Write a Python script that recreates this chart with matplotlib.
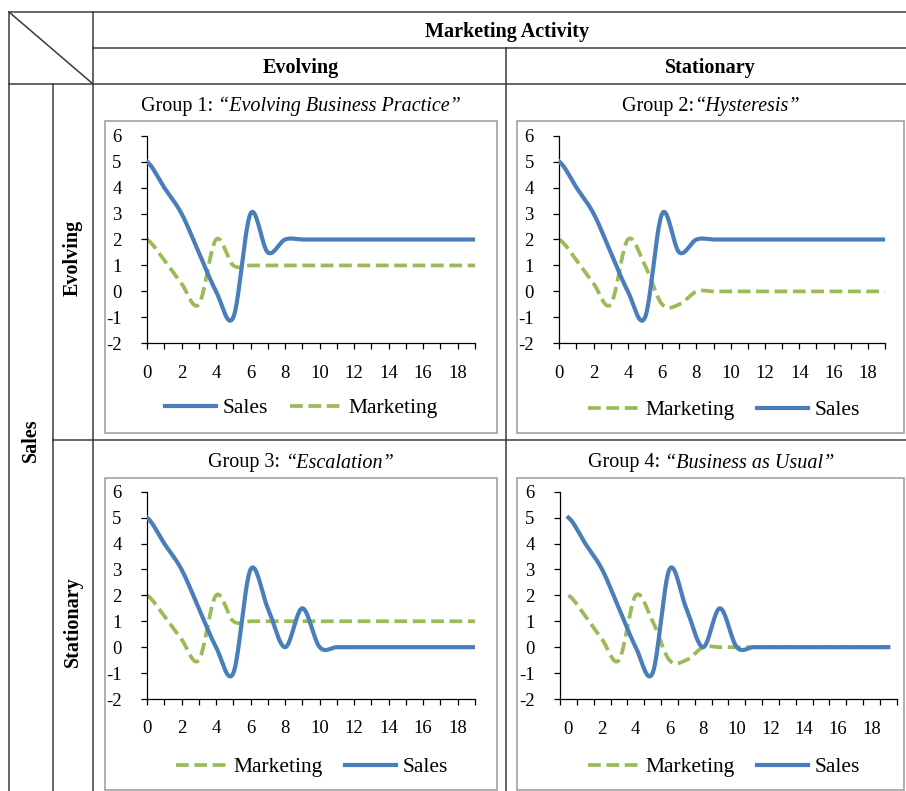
import numpy as np
import matplotlib
matplotlib.use('Agg')
import matplotlib.pyplot as plt
from matplotlib.lines import Line2D
from matplotlib.patches import Rectangle

plt.rcParams['font.family'] = 'Liberation Serif'
plt.rcParams['axes.unicode_minus'] = False

# values at each period 0..19
periodos = np.arange(20)
ventas_evol = [5, 4, 3, 1.5, 0, -1, 3, 1.5, 2, 2, 2, 2, 2, 2, 2, 2, 2, 2, 2, 2]
ventas_estac = [5, 4, 3, 1.5, 0, -1, 3, 1.5, 0, 1.5, 0, 0, 0, 0, 0, 0, 0, 0, 0, 0]
mkt_evol = [2, 1.2, 0.3, -0.5, 2, 1, 1, 1, 1, 1, 1, 1, 1, 1, 1, 1, 1, 1, 1, 1]
mkt_estac = [2, 1.2, 0.3, -0.5, 2, 1, -0.5, -0.5, 0, 0, 0, 0, 0, 0, 0, 0, 0, 0, 0, 0]

titulos = [('Group 1: ', '\u201cEvolving Business Practice\u201d'),
           ('Group 2:', '\u201cHysteresis\u201d'),
           ('Group 3: ', '\u201cEscalation\u201d'),
           ('Group 4: ', '\u201cBusiness as Usual\u201d')]

AZUL = '#4a7ebb'
VERDE = '#9bbb59'
W, H = 906, 791


def fx(x):
    return x / W


def fy(y):
    return 1 - y / H


def suavizar(y, n=40):
    # curva tipo Catmull-Rom (linea suavizada de Excel)
    y = np.asarray(y, float)
    p = np.r_[y[0], y, y[-1]]
    xs, ys = [], []
    t = np.linspace(0, 1, n, endpoint=False)
    for i in range(len(y) - 1):
        p0, p1, p2, p3 = p[i], p[i + 1], p[i + 2], p[i + 3]
        v = 0.5 * (2 * p1 + (-p0 + p2) * t + (2 * p0 - 5 * p1 + 4 * p2 - p3) * t ** 2
                   + (-p0 + 3 * p1 - 3 * p2 + p3) * t ** 3)
        xs.append(i + t)
        ys.append(v)
    xs.append([len(y) - 1])
    ys.append([y[-1]])
    return np.concatenate(xs), np.concatenate(ys)


fig = plt.figure(figsize=(W / 100, H / 100), dpi=100)

# tabla
lc = '#3a3a3a'
lineas = [((9, 906), (12, 12)), ((9, 9), (12, 791)), ((93, 93), (12, 791)),
          ((53, 53), (84, 791)), ((93, 906), (48, 48)), ((9, 906), (84, 84)),
          ((506, 506), (48, 791)), ((53, 906), (440, 440)), ((9, 93), (12, 84))]
for xx, yy in lineas:
    fig.add_artist(Line2D([fx(v) for v in xx], [fy(v) for v in yy],
                          color=lc, lw=1.1, transform=fig.transFigure))

fig.text(fx(507), fy(37.5), 'Marketing Activity', ha='center', va='baseline',
         fontsize=14.5, fontweight='bold')
fig.text(fx(301), fy(72.5), 'Evolving', ha='center', va='baseline', fontsize=14.5, fontweight='bold')
fig.text(fx(710), fy(72.5), 'Stationary', ha='center', va='baseline', fontsize=14.5, fontweight='bold')
fig.text(fx(31), fy(440), 'Sales', ha='center', va='center', rotation=90, fontsize=14.5, fontweight='bold')
fig.text(fx(73), fy(258), 'Evolving', ha='center', va='center', rotation=90, fontsize=14.5, fontweight='bold')
fig.text(fx(73), fy(622), 'Stationary', ha='center', va='center', rotation=90, fontsize=14.5, fontweight='bold')

# marcos de cada grafico
marcos = [(105, 121, 497, 433), (517, 121, 904, 433), (105, 478, 497, 790), (517, 478, 904, 790)]
for x0, y0, x1, y1 in marcos:
    fig.add_artist(Rectangle((fx(x0), fy(y1)), fx(x1) - fx(x0), (y1 - y0) / H, fill=False,
                             edgecolor='#9a9a9a', lw=1.1, transform=fig.transFigure))

# area de datos: izquierda, derecha, arriba, abajo (px)
areas = [(147, 475, 135.7, 343.3), (559.3, 885, 135.7, 343.3),
         (147, 475, 491.7, 699), (560, 896.7, 491.7, 699)]
series = [(ventas_evol, mkt_evol, 'sm'), (ventas_evol, mkt_estac, 'ms'),
          (ventas_estac, mkt_evol, 'ms'), (ventas_estac, mkt_estac, 'ms')]
leyendas = [(301, 408), (724, 410), (312, 767), (724, 767)]
centros_tit = [(301, 111.5), (711, 111.5), (301, 467.5), (711, 467.5)]

renderer = fig.canvas.get_renderer()

for k in range(4):
    l, r, t, b = areas[k]
    ax = fig.add_axes([fx(l), fy(b), (r - l) / W, (b - t) / H])
    ventas, mkt, orden = series[k]
    xv, yv = suavizar(ventas)
    xm, ym = suavizar(mkt)
    h_s, = ax.plot(xv, yv, color=AZUL, lw=3.0, label='Sales', zorder=3)
    h_m, = ax.plot(xm, ym, color=VERDE, lw=2.7, ls=(0, (3.4, 1.5)), dash_capstyle='butt',
                   label='Marketing', zorder=2)
    ax.set_ylim(-2, 6)
    ax.set_yticks(range(-2, 7))
    if k == 3:
        ax.set_xlim(-0.5, 19.5)
        ax.set_xticks(np.arange(-0.5, 20, 1))
        ax.set_xticklabels([])
        ax.set_xticks(range(0, 20, 2), minor=True)
        ax.set_xticklabels([str(i) for i in range(0, 20, 2)], minor=True)
        ax.tick_params(axis='x', which='minor', length=0, labelsize=13.5, pad=15.5)
    else:
        ax.set_xlim(0, 19)
        ax.set_xticks(periodos)
        ax.set_xticklabels([str(i) if i % 2 == 0 else '' for i in periodos])
    for lado in ['top', 'right']:
        ax.spines[lado].set_visible(False)
    for lado in ['left', 'bottom']:
        ax.spines[lado].set_linewidth(0.9)
    ax.tick_params(axis='both', which='major', direction='out', length=4.3, width=0.9, labelsize=13.5)
    ax.tick_params(axis='x', which='major', pad=11)
    ax.tick_params(axis='y', pad=14)
    ax.patch.set_alpha(0)
    handles = [h_s, h_m] if orden == 'sm' else [h_m, h_s]
    cx, cy = leyendas[k]
    ax.legend(handles=handles, loc='center', ncol=2, frameon=False, fontsize=15.5,
              bbox_to_anchor=(fx(cx), fy(cy)), bbox_transform=fig.transFigure,
              handlelength=2.4, handletextpad=0.3, columnspacing=1.0, borderpad=0)

    # titulo con parte en cursiva
    pre, cita = titulos[k]
    tx, ty = centros_tit[k]
    t1 = fig.text(0, fy(ty), pre, fontsize=14.5, va='baseline')
    t2 = fig.text(0, fy(ty), cita, fontsize=14.5, va='baseline', style='italic')
    w1 = t1.get_window_extent(renderer).width
    w2 = t2.get_window_extent(renderer).width
    x0 = tx - (w1 + w2) / 2
    t1.set_x(fx(x0))
    t2.set_x(fx(x0 + w1))

fig.savefig('out.png', dpi=100)
